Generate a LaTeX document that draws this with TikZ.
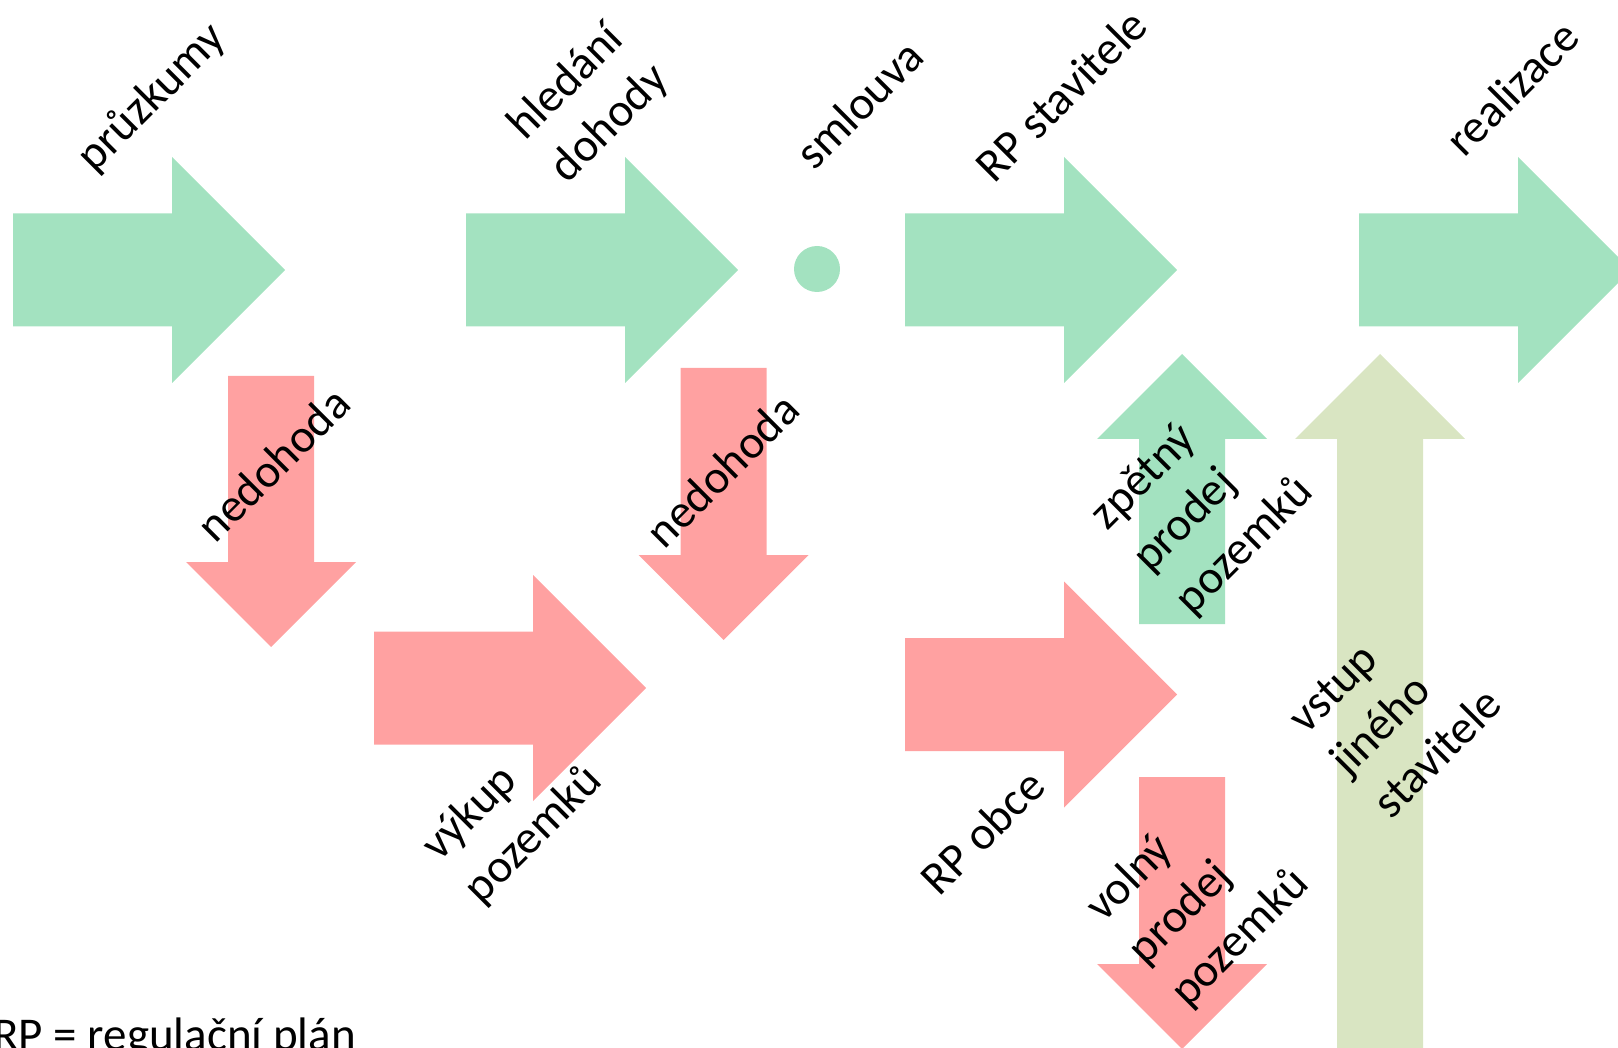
\documentclass[tikz,border=0pt]{standalone}
\usepackage{fontspec}
\setmainfont{Carlito}
\definecolor{agreen}{RGB}{163,226,192}
\definecolor{ared}{RGB}{255,161,161}
\definecolor{aolive}{RGB}{217,229,194}
% right arrow: colour, left x, centre y
\newcommand\RArr[3]{\fill[#1] (#2,#3) ++(0,-56.5) -- ++(159,0) -- ++(0,-56.5) -- ++(113,113) -- ++(-113,113) -- ++(0,-56.5) -- ++(-159,0) -- cycle;}
% down arrow: colour, centre x, top y, shaft length
\newcommand\DArr[4]{\fill[#1] (#2,#3) ++(-43,0) -- ++(86,0) -- ++(0,#4) -- ++(42,0) -- ++(-85,85) -- ++(-85,-85) -- ++(42,0) -- cycle;}
% up arrow: colour, centre x, tip y, bottom y
\newcommand\UArr[4]{\fill[#1] (#2,#3) -- ++(85,85) -- ++(-42,0) -- (#2+43,#4) -- (#2-43,#4) -- (#2-43,#3+85) -- ++(-42,0) -- cycle;}
\tikzset{
  lbl/.style={rotate=45, inner sep=0pt, align=left, font=\fontsize{47}{60}\selectfont},
}
\begin{document}
\begin{tikzpicture}[x=1pt,y=-1pt]
\useasboundingbox (0,0) rectangle (1618,1048);
\begin{scope}
\clip (0,0) rectangle (1618,1048);
% top row
\RArr{agreen}{13}{270}
\RArr{agreen}{466}{270}
\fill[agreen] (817,269) circle (23);
\RArr{agreen}{905}{270}
\RArr{agreen}{1359}{270}
% down arrows
\DArr{ared}{271}{376}{186}
\DArr{ared}{723.5}{368}{187}
\DArr{ared}{1182}{777}{187}
% middle row
\RArr{ared}{374}{688}
\RArr{ared}{905}{694.5}
% up arrows
\UArr{agreen}{1182}{354}{624}
\UArr{aolive}{1380}{354}{1060}
% legend (cut by the page edge)
\node[anchor=base east, inner sep=0pt, font=\fontsize{47}{60}\selectfont] (legenda) at (356,1050) {RP = regulační plán};
\end{scope}
% labels
\node[lbl] (pruzkumy) at (152,98) {průzkumy};
\node[lbl] (hledani) at (589,103) {hledání\\dohody};
\node[lbl] (smlouva) at (859,104) {smlouva};
\node[lbl] (rpstav) at (1061,95) {RP stavitele};
\node[lbl] (realizace) at (1512,88) {realizace};
\node[lbl] (nedohoda1) at (273,464) {nedohoda};
\node[lbl] (nedohoda2) at (722,470) {nedohoda};
\node[lbl] (vykup) at (513,814) {výkup\\pozemků};
\node[lbl] (zpetny) at (1203,504) {zpětný\\prodej\\pozemků};
\node[lbl] (rpobce) at (982,832) {RP obce};
\node[lbl] (volny) at (1198,896) {volný\\prodej\\pozemků};
\node[lbl] (vstup) at (1395,711) {vstup\\jiného\\stavitele};
\end{tikzpicture}
\end{document}
